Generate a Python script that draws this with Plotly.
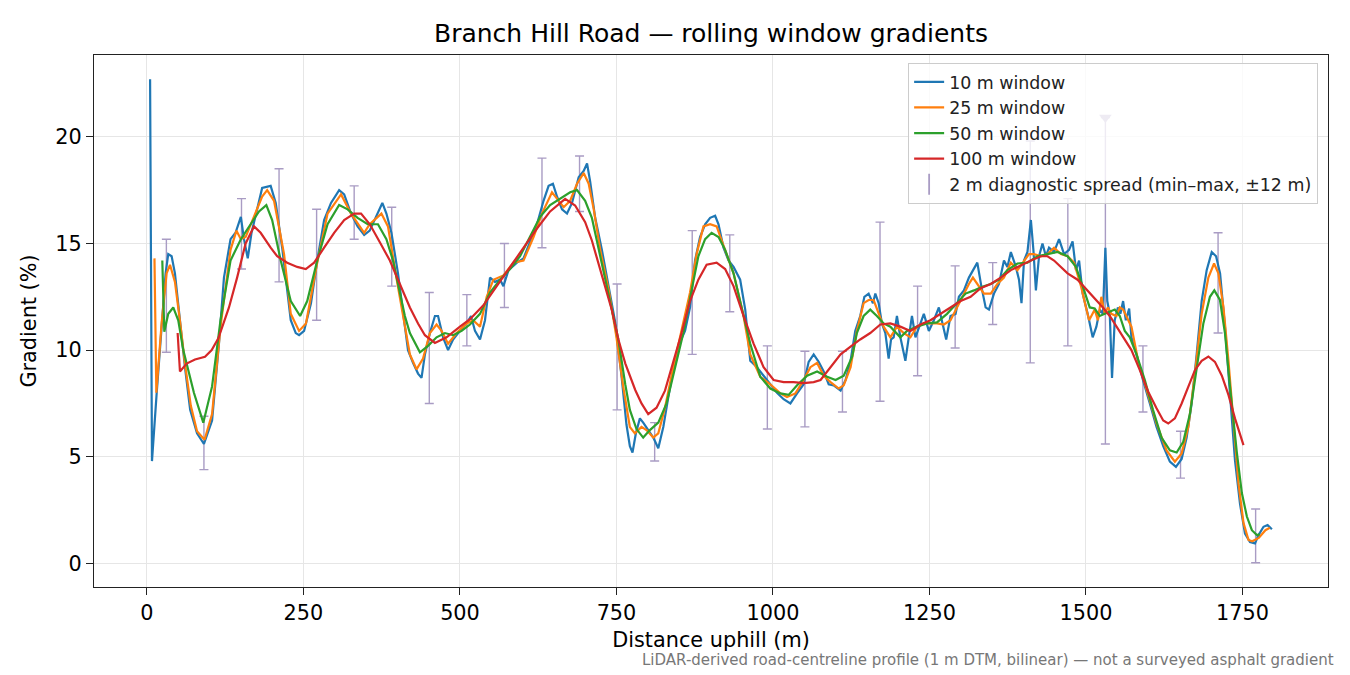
import plotly.graph_objects as go

# distance along the road (m) and gradient (%) for each rolling window
dist_10 = [5, 8, 15.5, 23.4, 29.8, 34, 39.4, 44.7, 52.7, 60.7, 69, 80, 91, 104, 115, 123, 133.5, 141.5,
           150, 155, 161, 167, 176, 184, 197.6, 205.7, 216, 224, 229.7, 237.7, 243, 251, 262, 272, 283,
           294, 307, 315, 326, 336.5, 347, 355.8, 366.5, 376, 382.5, 390.5, 401, 409, 417, 425, 433,
           438.6, 444, 452, 460, 465, 473, 481, 489, 500, 510.7, 517.6, 524, 532, 540, 548, 556, 564,
           569.4, 577.5, 591, 601.5, 612, 623, 633.5, 641.6, 648.5, 655, 663, 671, 679, 689.6, 697.6,
           703, 708, 716, 726.7, 737, 748, 758, 766, 771.4, 775.6, 781, 787.4, 792.7, 800.7, 808.8,
           816.8, 824.8, 832.8, 840.8, 848.8, 859.5, 867.5, 875.5, 883.5, 891.6, 899.6, 907.6, 913,
           921, 929, 937, 947.6, 955.7, 963.7, 974.4, 985, 995.7, 1006.4, 1017, 1027.8, 1038.5, 1049,
           1057, 1065, 1073, 1081, 1089, 1097, 1108, 1116, 1124, 1131.4, 1139.4, 1146, 1152.8, 1159.7,
           1163.5, 1168.8, 1174, 1179.5, 1184.8, 1188.6, 1192.8, 1198, 1203.5, 1211.5, 1216.9, 1222,
           1227.6, 1235.6, 1241, 1249, 1257, 1265, 1270, 1276.7, 1283.6, 1291.7, 1297, 1305, 1313,
           1320, 1326.4, 1332.8, 1339.7, 1345, 1353, 1361, 1369, 1374.5, 1380, 1388, 1393, 1397, 1401,
           1406.5, 1412, 1416, 1420, 1425, 1430.5, 1436, 1441, 1449, 1457, 1465, 1473, 1478.6, 1484,
           1489, 1494.7, 1502.7, 1510.7, 1516.6, 1522, 1527, 1531, 1534, 1538, 1541.6, 1545.9, 1551,
           1555, 1559.3, 1563.6, 1569, 1572.6, 1580.7, 1591, 1602, 1612.7, 1623.4, 1634, 1643.7,
           1652.8, 1660.8, 1668.8, 1676.8, 1684.8, 1692.8, 1700.9, 1707.8, 1714.2, 1722, 1730, 1738,
           1746, 1754, 1762, 1770, 1775.6, 1783.6, 1790, 1797]
grad_10 = [22.7, 4.8, 7.97, 11.25, 13.6, 14.5, 14.4, 13.6, 11.25, 9.2, 7.2, 6.1, 5.6, 6.7, 10.3, 13.4, 15.2, 15.5,
           16.25, 15.2, 14.3, 15.5, 16.6, 17.6, 17.7, 16.9, 14.8, 12.7, 11.4, 10.8, 10.7, 10.9, 12.2, 14.2, 16.1,
           16.9, 17.5, 17.3, 16.4, 15.8, 15.4, 15.6, 16.25, 16.9, 16.4, 15.5, 13.6, 11.7, 10.0, 9.4, 8.9,
           8.7, 9.8, 10.8, 11.6, 11.6, 10.6, 10.0, 10.5, 10.9, 11.25, 11.6, 10.9, 10.5, 11.4, 13.4, 13.2, 13.3,
           13.0, 13.75, 14.1, 14.3, 15.1, 15.9, 17.0, 17.7, 17.8, 17.2, 16.6, 16.4, 16.9, 18.1, 18.4,
           18.75, 17.9, 16.2, 14.7, 13.1, 11.3, 8.8, 6.5, 5.5, 5.2, 6.1, 6.8, 6.6, 6.25, 5.9,
           5.4, 6.4, 7.8, 9.1, 10.2, 10.9, 12.0, 14.2, 15.3, 15.9, 16.2, 16.3, 15.9,
           14.8, 14.2, 13.9, 13.3, 11.9, 9.5, 9.2, 8.8, 8.4, 8.0, 7.7, 7.5, 7.97, 8.4,
           9.45, 9.8, 9.45, 9.0, 8.4, 8.35, 8.1, 8.6, 9.5, 10.9, 11.6, 12.5, 12.65, 12.2,
           12.65, 12.2, 11.25, 10.8, 9.6, 10.5, 10.6, 11.6, 10.6, 9.5, 10.6, 11.6,
           10.6, 11.25, 11.7, 10.9, 11.4, 12.0, 11.4, 10.5, 11.6, 11.7, 12.5, 12.8, 13.4,
           13.75, 14.1, 13.0, 12.0, 11.9, 12.65, 13.1, 14.2, 13.9, 14.6, 13.9, 13.3, 12.2, 14.2,
           14.6, 16.1, 14.7, 12.8, 14.4, 15.0, 14.4, 14.8, 14.6, 15.2, 14.5, 14.7, 15.1, 13.75,
           14.2, 12.65, 11.7, 10.6, 11.1, 11.9, 11.7, 14.8, 12.3, 11.7, 8.7, 11.4, 12.0,
           11.7, 12.3, 11.4, 11.95, 10.6, 9.8, 8.6, 7.5, 6.4, 5.5, 4.77, 4.53,
           4.9, 5.9, 7.5, 9.8, 12.3, 13.75, 14.6, 14.4, 13.6, 11.1, 7.97, 4.84,
           2.8, 1.4, 1.0, 0.94, 1.33, 1.72, 1.8, 1.6]

dist_25 = [12, 15, 23.4, 31.4, 36.8, 44.7, 53, 61, 70, 80, 92, 104, 117.5, 133.5, 143, 150, 157.6, 171,
           184, 192, 203, 219, 229.7, 243, 254, 272, 288.5, 310, 326, 347, 355.8, 374.5, 385, 398.4,
           409, 420, 430.6, 441, 452, 462.6, 470.6, 481, 494.7, 510.7, 521, 532, 542.7, 553.4, 569.4,
           585.5, 601.5, 617.5, 631, 647, 655, 665.6, 676, 687, 697.6, 705.6, 713.7, 724, 737.7, 750,
           760.7, 771.4, 779.4, 790, 798, 808.8, 816.8, 827.5, 840.8, 854, 867.5, 878, 888.9, 899.6,
           910, 921, 937, 953, 963.7, 979.7, 995.7, 1011.8, 1022.4, 1035.8, 1049, 1059.8, 1070.5,
           1081, 1092, 1105, 1113, 1124, 1134, 1144.8, 1152.8, 1160.8, 1168.8, 1176.8, 1187.5, 1198,
           1208.9, 1219.5, 1230, 1241, 1251.6, 1262, 1273, 1283.6, 1294, 1305, 1313, 1319.4, 1326.4,
           1337, 1347.8, 1358.4, 1369, 1380, 1390.5, 1401, 1409, 1417, 1428, 1438.6, 1449, 1460,
           1470.6, 1481, 1492, 1500, 1505, 1514, 1519, 1524.6, 1530, 1535, 1540.5, 1548.6, 1554,
           1559.3, 1564.6, 1572.6, 1583.3, 1596.7, 1612.7, 1628.7, 1642, 1652.8, 1663.5, 1674,
           1684.8, 1695.5, 1704.6, 1711.5, 1719.6, 1727.6, 1735.6, 1743.6, 1751.6, 1759.6, 1765.5,
           1776, 1786.6, 1793.7]
grad_25 = [14.3, 8.0, 11.25, 13.6, 14.0, 13.2, 11.3, 9.3, 7.4, 6.2, 5.8, 7.0, 11.1, 14.7, 15.6, 15.2, 15.3, 16.25,
           17.2, 17.5, 17.0, 14.5, 11.7, 10.9, 11.25, 14.1, 16.4, 17.3, 16.4, 15.5, 15.9, 16.4, 15.8, 13.4,
           11.6, 9.8, 9.1, 9.6, 10.8, 11.2, 10.9, 10.3, 10.8, 11.25, 11.4, 11.1, 12.5, 13.3, 13.5,
           14.1, 14.2, 15.3, 16.4, 17.4, 17.1, 16.7, 17.0, 17.8, 18.3, 17.8, 16.6, 14.7, 12.8, 10.6,
           8.3, 6.4, 6.1, 6.4, 6.25, 5.9, 6.1, 7.3, 9.2, 10.9, 12.7, 14.5, 15.8, 15.9,
           15.8, 14.9, 13.6, 11.6, 9.8, 8.75, 8.4, 7.97, 7.8, 7.97, 8.6, 9.2, 9.4,
           8.8, 8.5, 8.2, 8.35, 9.2, 10.9, 12.2, 12.35, 12.35, 11.7, 11.1, 10.6, 11.1,
           10.8, 10.6, 11.1, 11.25, 11.25, 11.25, 11.2, 11.4, 12.0, 12.65, 13.1, 13.4, 13.1,
           12.65, 12.65, 13.1, 13.4, 14.1, 13.75, 14.2, 14.5, 14.5, 14.4, 14.5, 14.8, 14.5,
           14.4, 14.1, 13.0, 12.0, 11.4, 11.9, 11.4, 12.5, 11.7, 12.0, 11.7, 11.6, 12.0,
           11.9, 11.6, 11.1, 9.5, 8.1, 6.56, 5.3, 4.77, 5.16, 6.4, 8.9,
           11.7, 13.4, 14.06, 13.6, 12.0, 9.5, 6.4, 3.75, 1.9, 1.1, 1.04,
           1.2, 1.56, 1.67]

dist_50 = [24.5, 27.7, 34, 42, 50, 58, 75, 90, 104, 117.5, 133.5, 150, 165.6, 179, 190.7, 200, 213.7,
           229.7, 244.7, 256, 272, 288.5, 307, 320.5, 336.5, 352.6, 369, 382.5, 393, 404, 412, 420,
           436, 449, 462.6, 476, 489, 502.7, 516, 532, 548, 564, 580, 596, 612, 628, 644, 660, 676,
           687, 700, 710.7, 721.3, 732, 742.7, 753, 764, 771.4, 782, 792.7, 803.4, 816.8, 830, 843.5,
           856.8, 870, 880.8, 891.6, 902, 913, 923.6, 937, 950, 963.7, 979.7, 995.7, 1011.8, 1025,
           1038.5, 1054.5, 1070.5, 1086.5, 1100, 1113, 1126.6, 1134, 1144.8, 1155.4, 1166, 1176.8,
           1187.5, 1203.5, 1214, 1230, 1246, 1262, 1278, 1294, 1307.7, 1321, 1334.4, 1347.8, 1361,
           1374.5, 1390.5, 1406.5, 1422.5, 1438.6, 1454.6, 1470.6, 1484, 1497, 1506, 1514, 1522,
           1530, 1538, 1546, 1554, 1562, 1570, 1580.7, 1594, 1607, 1620.7, 1634, 1644.8, 1655.4,
           1666, 1676.8, 1687.5, 1698, 1705, 1714, 1722, 1730, 1741, 1749, 1757, 1765, 1773, 1777.7]
grad_50 = [14.2, 10.86, 11.7, 12.0, 11.4, 10.0, 8.0, 6.6, 8.3, 11.4, 14.2, 15.2, 15.9, 16.5, 16.8, 16.1, 14.2,
           12.3, 11.6, 12.3, 14.2, 15.9, 16.8, 16.6, 16.2, 15.9, 15.9, 15.2, 14.2, 12.7, 11.6, 10.8,
           9.9, 10.2, 10.6, 10.8, 10.7, 10.9, 11.2, 11.7, 12.7, 13.3, 13.8, 14.4, 15.3, 16.25, 16.8, 17.1, 17.4,
           17.5, 17.0, 16.2, 14.8, 13.4, 12.0, 10.5, 8.4, 7.2, 6.3, 5.9, 6.25, 6.6, 7.5, 9.1,
           10.8, 12.8, 14.4, 15.2, 15.5, 15.3, 14.7, 13.6, 12.0, 10.3, 8.75, 8.2, 7.97, 7.9,
           8.35, 8.8, 9.0, 8.75, 8.6, 8.8, 9.7, 10.8, 11.6, 11.9, 11.6, 11.25,
           11.1, 10.6, 10.9, 11.1, 11.25, 11.3, 11.7, 12.2, 12.65, 12.8, 12.97, 13.1, 13.3,
           13.75, 14.06, 14.1, 14.4, 14.5, 14.6, 14.4, 13.9, 12.8, 12.0, 11.95, 11.6,
           11.7, 11.8, 11.9, 11.6, 10.9, 10.6, 9.8, 8.6, 7.2, 5.9, 5.3, 5.2, 5.7,
           7.0, 9.2, 11.25, 12.5, 12.8, 12.35, 10.8, 8.3, 5.2, 3.3, 2.2, 1.56, 1.33, 1.36]

dist_100 = [49, 52.7, 63.4, 76.7, 92.7, 103.4, 114, 124.7, 131, 144, 157.6, 171, 181.6, 197.6, 208, 224,
            240, 253.7, 267, 283, 299, 315, 331, 342, 356, 372, 388, 404, 420, 433, 444, 460, 478.6,
            500, 516, 537.4, 558.8, 580, 601.5, 623, 644, 652, 668, 684, 700, 710.7, 721.3, 732, 742.7,
            753.3, 764, 780, 790, 800.7, 814, 827.5, 840.8, 854, 867.5, 880.8, 894, 910, 923.6, 937,
            953, 969, 985, 1001, 1017, 1033, 1049, 1065, 1076, 1092, 1108, 1123.4, 1139.4, 1155.4,
            1171.5, 1187.5, 1203.5, 1219.5, 1235.6, 1251.6, 1267.6, 1283.6, 1299.7, 1315.7, 1331.7,
            1347.8, 1363.8, 1380, 1396, 1412, 1428, 1438.6, 1449, 1460, 1470.6, 1486.6, 1502.7,
            1516.6, 1527, 1538, 1548.6, 1559.3, 1572.6, 1586, 1599.4, 1612.7, 1623.4, 1631.4, 1642,
            1652.8, 1663.5, 1674, 1684.8, 1695.5, 1706, 1717, 1727.6, 1738, 1751.6]
grad_100 = [10.8, 9.0, 9.37, 9.56, 9.69, 10.0, 10.55, 11.4, 12.0, 13.4, 15.0, 15.8, 15.5, 14.8, 14.4, 14.1,
            13.9, 13.8, 14.1, 14.8, 15.5, 16.1, 16.4, 16.4, 15.9, 15.06, 14.2, 13.1, 12.0, 11.25, 10.7, 10.34, 10.6,
            11.1, 11.45, 12.1, 13.0, 13.9, 14.8, 15.7, 16.5, 16.7, 17.09, 16.78, 16.0, 15.14, 14.05, 12.96, 11.87,
            10.47, 9.38, 8.13, 7.5, 7.0, 7.3, 8.1, 9.4, 10.8, 12.3, 13.3, 14.0, 14.1, 13.8, 13.0,
            11.6, 10.3, 9.2, 8.6, 8.5, 8.5, 8.45, 8.5, 8.6, 9.2, 9.8, 10.15, 10.5, 10.8,
            11.2, 11.25, 11.1, 10.9, 11.2, 11.4, 11.7, 12.0, 12.3, 12.5, 12.9,
            13.1, 13.4, 13.75, 13.98, 14.2, 14.4, 14.4, 14.2, 13.9, 13.6, 13.3, 12.8,
            12.35, 12.0, 11.6, 11.1, 10.6, 10.0, 9.06, 8.05, 7.27, 6.7, 6.56, 6.8,
            7.5, 8.3, 9.06, 9.5, 9.7, 9.45, 8.8, 7.9, 6.8, 5.55]

# 2 m diagnostic spread, min and max over +-12 m
spread_dist = [31, 91, 151, 211, 271, 331, 391, 451, 511, 571, 631, 691, 751, 811, 871, 931, 991,
               1051, 1111, 1171, 1231, 1291, 1351, 1411, 1471, 1531, 1591, 1651, 1711, 1771]
spread_min = [9.9, 4.4, 13.8, 13.2, 11.4, 15.2, 13.0, 7.5, 10.2, 12.0, 14.8, 16.5, 7.2, 4.8, 9.8, 11.8, 6.3,
              6.4, 7.1, 7.6, 8.8, 10.1, 11.2, 9.4, 10.2, 5.6, 7.1, 4.0, 10.8, 0.03]
spread_max = [15.2, 6.9, 17.1, 18.5, 16.6, 17.7, 16.7, 12.7, 12.6, 15.0, 19.0, 19.1, 13.1, 6.6, 15.6, 15.4, 10.2,
              9.95, 9.95, 16.0, 13.0, 13.95, 14.1, 19.8, 17.1, 20.9, 10.2, 6.2, 15.5, 2.55]
# spread that runs past the clip level
clipped_dist = [1531]
clipped_max = [20.9]

spread_color = '#a99cc4'
font = 'DejaVu Sans'

fig = go.Figure()

# spread bars go underneath the lines
fig.add_trace(go.Scatter(
    x=spread_dist, y=spread_min, mode='markers',
    marker=dict(size=1, color='rgba(0,0,0,0)'),
    error_y=dict(type='data', symmetric=False,
                 array=[hi - lo for lo, hi in zip(spread_min, spread_max)],
                 arrayminus=[0] * len(spread_min),
                 color=spread_color, thickness=1.4, width=4.5),
    showlegend=False, hoverinfo='skip'))
fig.add_trace(go.Scatter(
    x=clipped_dist, y=clipped_max, mode='markers',
    marker=dict(symbol='triangle-down', size=11, color=spread_color),
    showlegend=False, hoverinfo='skip'))

series = [('10 m window', dist_10, grad_10, '#1f77b4'),
          ('25 m window', dist_25, grad_25, '#ff7f0e'),
          ('50 m window', dist_50, grad_50, '#2ca02c'),
          ('100 m window', dist_100, grad_100, '#d62728')]
for i, (name, xs, ys, col) in enumerate(series):
    fig.add_trace(go.Scatter(x=xs, y=ys, mode='lines', name=name,
                             line=dict(color=col, width=2.2),
                             legendrank=i + 1))

# legend entry for the spread bars
fig.add_trace(go.Scatter(
    x=[None], y=[None], mode='markers', name='2 m diagnostic spread (min–max, ±12 m)',
    marker=dict(symbol='line-ns-open', size=15, color=spread_color,
                line=dict(color=spread_color, width=1.8)),
    legendrank=5))

# matplotlib style 5% padding around the data
all_x = dist_10 + dist_25 + dist_50 + dist_100 + spread_dist
all_y = grad_10 + grad_25 + grad_50 + grad_100 + spread_min + spread_max
pad_x = 0.05 * (max(all_x) - min(all_x))
pad_y = 0.05 * (max(all_y) - min(all_y))

axis_style = dict(
    showgrid=True, gridcolor='#e6e6e6', gridwidth=1.2,
    showline=True, mirror=True, linecolor='#222222', linewidth=1.4,
    ticks='outside', ticklen=7, tickwidth=1.4, tickcolor='#222222',
    tickfont=dict(family=font, size=20.8, color='black'),
    zeroline=False,
)

fig.update_xaxes(axis_style, range=[min(all_x) - pad_x, max(all_x) + pad_x],
                 tickvals=[0, 250, 500, 750, 1000, 1250, 1500, 1750],
                 title=dict(text='Distance uphill (m)', standoff=8,
                            font=dict(family=font, size=20.8, color='black')))
fig.update_yaxes(axis_style, range=[min(all_y) - pad_y, max(all_y) + pad_y],
                 tickvals=[0, 5, 10, 15, 20],
                 title=dict(text='Gradient (%)', standoff=12,
                            font=dict(family=font, size=20.8, color='black')))

# the page adds an 8 px body margin, so the figure is a little smaller than the window
fig.update_layout(
    width=1342, height=667,
    margin=dict(l=86, r=22, t=47, b=88),
    plot_bgcolor='white', paper_bgcolor='white',
    font=dict(family=font, color='black'),
    title=dict(text='Branch Hill Road — rolling window gradients',
               x=0.5, xref='paper', xanchor='center',
               y=1 - 25 / 667, yanchor='middle',
               font=dict(family=font, size=25, color='black')),
    legend=dict(x=0.992, y=0.985, xanchor='right', yanchor='top',
                bgcolor='rgba(255,255,255,0.8)', bordercolor='#cccccc', borderwidth=1,
                font=dict(family=font, size=17.4, color='#222222')),
    showlegend=True,
)

fig.add_annotation(
    text='LiDAR-derived road-centreline profile (1 m DTM, bilinear) — not a surveyed asphalt gradient',
    xref='paper', yref='paper', x=1.0065, y=-0.137, xanchor='right', yanchor='middle',
    showarrow=False, font=dict(family=font, size=15, color='#777777'))

fig.write_html('out.html')
